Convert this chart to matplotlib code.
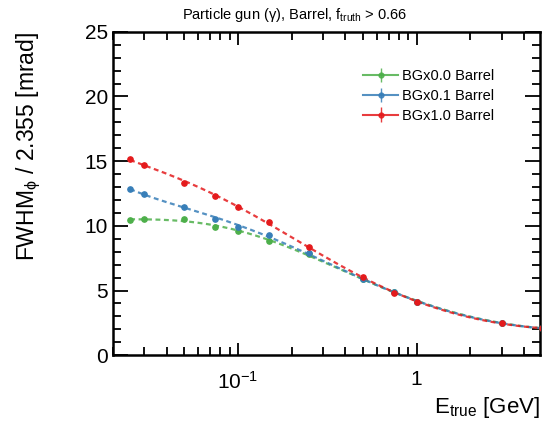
import numpy as np
import matplotlib.pyplot as plt
from matplotlib.ticker import LogLocator, MultipleLocator, FixedLocator, FixedFormatter, NullFormatter

plt.rcParams['font.family'] = ['Liberation Sans', 'DejaVu Sans']
plt.rcParams['mathtext.fontset'] = 'custom'
plt.rcParams['mathtext.rm'] = 'Liberation Sans'
plt.rcParams['mathtext.it'] = 'Liberation Sans:italic'

# data
energy = [0.025, 0.03, 0.05, 0.075, 0.1, 0.15, 0.25, 0.5, 0.75, 1.0, 3.0, 5.0]
bg00 = [10.45, 10.55, 10.5, 9.88, 9.61, 8.85, 7.8, 5.9, 4.85, 4.15, 2.5, 2.07]
bg01 = [12.83, 12.44, 11.48, 10.53, 9.93, 9.31, 7.87, 5.86, 4.85, 4.15, 2.5, 2.07]
bg10 = [15.15, 14.7, 13.34, 12.31, 11.48, 10.32, 8.34, 6.01, 4.82, 4.13, 2.48, 2.07]
err = [0.12, 0.1, 0.1, 0.1, 0.1, 0.12, 0.12, 0.1, 0.1, 0.1, 0.08, 0.08]

labels = ["BGx0.0 Barrel", "BGx0.1 Barrel", "BGx1.0 Barrel"]
colors = ["#4daf4a", "#377eb8", "#e41a1c"]

fig = plt.figure(figsize=(5.45, 4.30), dpi=100)
ax = fig.add_axes([0.207, 0.174, 0.784, 0.752])

x = np.array(energy)
xfine = np.logspace(np.log10(energy[0]), np.log10(energy[-1]), 300)
handles = []
for vals, lab, col in zip([bg00, bg01, bg10], labels, colors):
    # smooth fit through the points (log-log polynomial)
    coef = np.polyfit(np.log10(x), np.log10(vals), 4)
    ax.plot(xfine, 10 ** np.polyval(coef, np.log10(xfine)), color=col, lw=1.6,
            ls=(0, (2.2, 1.6)), alpha=0.85, zorder=2)
    ax.errorbar(x, vals, yerr=err, fmt='o', color=col, ms=3.8, elinewidth=1.0,
                capsize=0, zorder=3)
    h = ax.errorbar([np.nan], [np.nan], yerr=[1], fmt='-o', color=col, ms=3.5,
                    lw=1.5, elinewidth=1.0, capsize=0, alpha=0.85)
    handles.append(h)

ax.set_xscale('log')
ax.set_xlim(0.02, 4.9)
ax.set_ylim(0, 25)

ax.xaxis.set_major_locator(FixedLocator([0.1, 1]))
ax.xaxis.set_major_formatter(FixedFormatter([r'$\mathregular{10^{-1}}$', '1']))
ax.xaxis.set_minor_locator(LogLocator(base=10, subs=np.arange(2, 10)))
ax.xaxis.set_minor_formatter(NullFormatter())
ax.yaxis.set_major_locator(MultipleLocator(5))
ax.yaxis.set_minor_locator(MultipleLocator(1))

ax.tick_params(which='both', direction='in', top=True, right=True, width=1.3)
ax.tick_params(which='major', length=11, labelsize=15)
ax.tick_params(axis='x', which='major', length=9, pad=11)
ax.tick_params(which='minor', length=6)
for s in ax.spines.values():
    s.set_linewidth(1.8)

ax.set_xlabel(r'E$_{\mathregular{true}}$ [GeV]', fontsize=16, loc='right', labelpad=2)
ax.set_ylabel('FWHM$_{\\mathregular{\u03d5}}$ / 2.355 [mrad]', fontsize=16.5, loc='top',
              labelpad=30)

fig.text(0.54, 0.966, 'Particle gun (\u03b3), Barrel, f$_{\\mathregular{truth}}$ > 0.66',
         ha='center', va='center', fontsize=10.5)

ax.legend(handles, labels, loc='upper left', bbox_to_anchor=(0.555, 0.925),
          frameon=False, fontsize=10.5, handlelength=2.4, handletextpad=0.3,
          labelspacing=0.4)

fig.savefig('out.png', dpi=100)
